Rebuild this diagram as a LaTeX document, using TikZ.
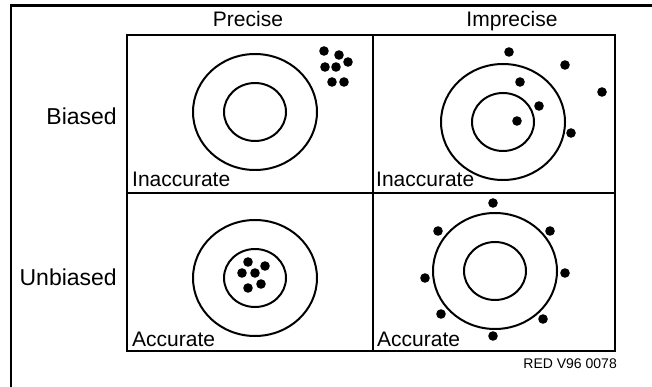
\documentclass[tikz,border=0pt]{standalone}
\usepackage{fontspec}
\setmainfont{Liberation Sans}
\begin{document}
\begin{tikzpicture}[x=1pt,y=-1pt,
  frame/.style={line width=2.2pt},
  ring/.style={line width=2pt},
  dot/.style={fill=black},
  lbl/.style={inner sep=0pt,font=\fontsize{21}{25}\selectfont},
  rowlbl/.style={inner sep=0pt,font=\fontsize{23}{27}\selectfont},
  small/.style={inner sep=0pt,font=\fontsize{14}{17}\selectfont}]
\useasboundingbox (0,0) rectangle (652,387);
% outer frame (top and left)
\draw[frame] (652,5.5) -- (11,5.5) -- (11,387);
% grid
\draw[frame] (127,35) rectangle (615,351);
\draw[frame] (373,35) -- (373,351);
\draw[frame] (127,193) -- (615,193);
% headers
\node[lbl,anchor=base] (precise) at (248,27) {Precise};
\node[lbl,anchor=base] (imprecise) at (512,27) {Imprecise};
\node[rowlbl,anchor=base east] (biased) at (117,125) {Biased};
\node[rowlbl,anchor=base east] (unbiased) at (117,285) {Unbiased};
% cell labels
\node[lbl,anchor=base west] (inacc1) at (132,187) {Inaccurate};
\node[lbl,anchor=base west] (inacc2) at (376,187) {Inaccurate};
\node[lbl,anchor=base west] (acc1) at (132,346) {Accurate};
\node[lbl,anchor=base west] (acc2) at (377,346) {Accurate};
\node[small,anchor=base east] (code) at (617,368) {RED V96 0078};
% targets
\foreach \cx/\cy in {255/112, 503/122, 255/278, 495/271}{
  \draw[ring] (\cx,\cy) ellipse [x radius=62, y radius=58];
  \draw[ring] (\cx,\cy) ellipse [x radius=31, y radius=29];
}
% dots: biased precise
\foreach \p in {(324,51),(339,55),(348,62),(325,67),(336,67),(332,82),(344,82)}
  \fill[dot] \p circle [radius=4.8];
% dots: biased imprecise
\foreach \p in {(509,52),(565,65),(520,82),(602,92),(539,106),(517,121),(571,133)}
  \fill[dot] \p circle [radius=4.8];
% dots: unbiased precise
\foreach \p in {(248,262),(265,266),(242,273),(255,273),(261,284),(248,288)}
  \fill[dot] \p circle [radius=4.8];
% dots: unbiased imprecise
\foreach \p in {(493,203),(438,231),(550,231),(425,278),(565,273),(441,314),(543,319),(493,336)}
  \fill[dot] \p circle [radius=4.8];
\end{tikzpicture}
\end{document}
